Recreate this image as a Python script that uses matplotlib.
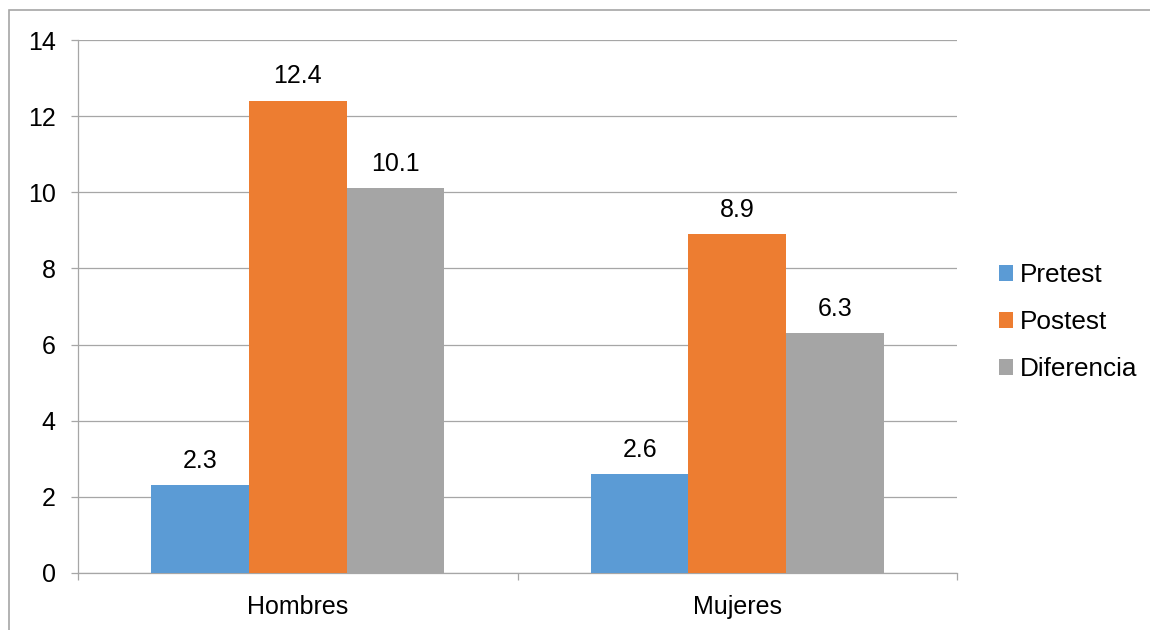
import matplotlib
matplotlib.use("Agg")
import numpy as np
from matplotlib import pyplot as plt
from matplotlib.patches import Rectangle

plt.rcParams["font.family"] = ["Liberation Sans", "DejaVu Sans"]

categories = ["Hombres", "Mujeres"]
series = ["Pretest", "Postest", "Diferencia"]
pretest = [2.3, 2.6]
postest = [12.4, 8.9]
diferencia = [10.1, 6.3]
colors = ["#5B9BD5", "#ED7D31", "#A5A5A5"]

grid_c = "#a6a6a6"
fs = 18

fig = plt.figure(figsize=(11.5, 6.3), dpi=100)
ax = fig.add_axes([78 / 1150, 1 - 573 / 630, (957 - 78) / 1150, (573 - 40) / 630])

x = np.arange(len(categories))
width = 0.222
for i, (name, vals) in enumerate(zip(series, [pretest, postest, diferencia])):
    bars = ax.bar(x + (i - 1) * width, vals, width, color=colors[i], label=name, zorder=3)
    ax.bar_label(bars, labels=[f"{v:.1f}" for v in vals], padding=9, fontsize=fs, color="#000000")

ax.set_xlim(-0.5, 1.5)
ax.set_ylim(0, 14)
ax.set_yticks(np.arange(0, 15, 2))
ax.yaxis.grid(True, color=grid_c, linewidth=0.9, zorder=0)
ax.set_axisbelow(True)

# category labels centred, tick marks at the category boundaries
ax.set_xticks([-0.5, 0.5, 1.5])
ax.set_xticklabels([])
ax.set_xticks(x, minor=True)
ax.set_xticklabels(categories, minor=True, fontsize=fs)
ax.tick_params(axis="x", which="minor", length=0, pad=16)
ax.tick_params(axis="x", which="major", length=5, width=0.9, color=grid_c)
ax.tick_params(axis="y", length=5, width=0.9, color=grid_c, labelsize=fs, pad=11)

for s in ["top", "right"]:
    ax.spines[s].set_visible(False)
for s in ["left", "bottom"]:
    ax.spines[s].set_color(grid_c)
    ax.spines[s].set_linewidth(0.9)

ax.legend(loc="center left", bbox_to_anchor=(999 / 1150, 1 - 322 / 630),
          bbox_transform=fig.transFigure, frameon=False, fontsize=18.8,
          handlelength=0.55, handleheight=0.55, handletextpad=0.25,
          labelspacing=0.88, borderpad=0, borderaxespad=0)

# outer chart frame
fig.add_artist(Rectangle((9 / 1150, -0.1), 1.2, 1 - 10 / 630 + 0.1,
                         transform=fig.transFigure, fill=False,
                         edgecolor=grid_c, linewidth=1.2))

fig.savefig("out.png", dpi=100)
